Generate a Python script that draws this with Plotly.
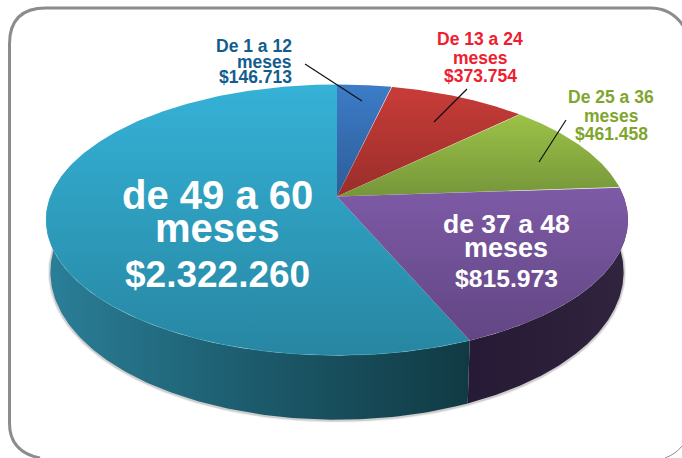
import numpy as np
import plotly.graph_objects as go

# --- data ---
categories = ["De 1 a 12 meses", "De 13 a 24 meses", "De 25 a 36 meses", "de 37 a 48 meses", "de 49 a 60 meses"]
values = [146713, 373754, 461458, 815973, 2322260]
top_colors = [("#3c7cc8", "#2e5c98"), ("#c83c38", "#9a2e2a"), ("#9cc247", "#76963a"),
              ("#7e5aa6", "#624684"), ("#35b2d7", "#2786a2")]
wall_colors = {3: ["#271a36", "#2a1e38", "#30243f"], 4: ["#2a7f98", "#1c5a6b", "#103a43"]}

# --- perspective disc projection ---
CX, CY, A, B, K = 337, 196.5, 286.6, 131.4, 0.173
WALL_DY, WALL_SX, WALL_SY = 50, 0.985, 1.09


def top_pt(theta):
    u, v = np.sin(theta), np.cos(theta)
    w = 1 + K * v
    return CX + A * u / w, CY - B * v / w


def bottom_pt(theta):
    u, v = np.sin(theta), np.cos(theta)
    w = 1 + K * v
    return CX + WALL_SX * A * u / w, CY + WALL_DY - WALL_SY * B * v / w


total = sum(values)
edges = np.concatenate([[0], np.cumsum(values)]) / total * 2 * np.pi
fig = go.Figure()

# shadow + walls
arc_all = np.linspace(edges[3], 2 * np.pi * 0.79, 200)
sx, sy = bottom_pt(arc_all)
for width, alpha in [(5, 0.10), (3, 0.22)]:
    fig.add_trace(go.Scatter(x=sx, y=sy + 0.5, mode="lines", hoverinfo="skip", showlegend=False,
                             line=dict(color=f"rgba(90,90,90,{alpha})", width=width)))

for i, (a, b) in [(4, (edges[4], 2 * np.pi * 0.79)), (3, (edges[3], edges[4]))]:
    t = np.linspace(a, b, 160)
    tx, ty = top_pt(t)
    bx, by = bottom_pt(t)
    cols = wall_colors[i]
    scale = [[0, cols[0]], [0.5, cols[1]], [1, cols[2]]]
    fig.add_trace(go.Scatter(x=np.r_[tx, bx[::-1]], y=np.r_[ty, by[::-1]], mode="lines", fill="toself",
                             line=dict(width=0), hoverinfo="skip", showlegend=False,
                             fillgradient=dict(type="horizontal", colorscale=scale)))

# top faces
for i in [4, 0, 1, 2, 3]:
    t = np.linspace(edges[i], edges[i + 1], 240)
    px, py = top_pt(t)
    fig.add_trace(go.Scatter(x=np.r_[CX, px, CX], y=np.r_[CY, py, CY], mode="lines", fill="toself",
                             line=dict(width=0), name=categories[i], showlegend=False,
                             fillgradient=dict(type="vertical",
                                               colorscale=[[0, top_colors[i][1]], [1, top_colors[i][0]]])))

# rim highlight on front edge of the large slice
t = np.linspace(edges[4], 2 * np.pi * 0.76, 160)
rx, ry = top_pt(t)
fig.add_trace(go.Scatter(x=rx, y=ry, mode="lines", hoverinfo="skip", showlegend=False,
                         line=dict(color="rgba(90,190,215,0.3)", width=1)))

FONT = "Liberation Sans, Arial, sans-serif"
labels = [
    ("De 1 a 12", 292, 46, 17.5, "#135c8e", "right"), ("meses", 292, 62, 17.5, "#135c8e", "right"),
    ("$146.713", 292, 77, 17.5, "#135c8e", "right"),
    ("De 13 a 24", 480, 39, 17.5, "#ee2030", "center"), ("meses", 480, 58, 17.5, "#ee2030", "center"),
    ("$373.754", 480, 76, 17.5, "#ee2030", "center"),
    ("De 25 a 36", 611, 97, 17.5, "#7fa52e", "center"), ("meses", 611, 116, 17.5, "#7fa52e", "center"),
    ("$461.458", 611, 134, 17.5, "#7fa52e", "center"),
    ("de 37 a 48", 506, 224, 26.5, "white", "center"), ("meses", 506, 248, 27, "white", "center"),
    ("$815.973", 506, 278, 24.7, "white", "center"),
    ("de 49 a 60", 217, 195, 40, "white", "center"), ("meses", 217, 228, 40, "white", "center"),
    ("$2.322.260", 217, 274, 37, "white", "center"),
]
for text, x, y, size, col, anchor in labels:
    fig.add_annotation(x=x, y=y, text=f"<b>{text}</b>", showarrow=False, xanchor=anchor, yanchor="middle",
                       font=dict(family=FONT, size=size, color=col), borderpad=0, borderwidth=0)

leaders = [(305, 64, 362, 101), (467, 89, 434, 122), (566, 120, 539, 162)]
shapes = [dict(type="line", x0=a, y0=b, x1=c, y1=d, line=dict(color="#111111", width=1.2), layer="above")
          for a, b, c, d in leaders]
shapes.append(dict(type="path", layer="below",
                   path="M 40 458 Q 9.5 452 9.5 423 L 9.5 44 Q 9.5 8 46 8 L 650 8 Q 672 8 684 27",
                   line=dict(color="#8b8b90", width=3)))
shapes.append(dict(type="path", layer="below", path="M 665 458 Q 676 454 682 446",
                   line=dict(color="#8b8b90", width=1)))

fig.update_layout(
    width=682, height=458, margin=dict(l=0, r=0, t=0, b=0), autosize=False,
    paper_bgcolor="white", plot_bgcolor="white", showlegend=False, shapes=shapes,
    xaxis=dict(range=[0, 682], visible=False, fixedrange=True),
    yaxis=dict(range=[458, 0], visible=False, fixedrange=True),
)
fig.write_html("out.html", config={"displayModeBar": False},
               post_script="document.body.style.margin='0';document.documentElement.style.overflow='hidden';")
